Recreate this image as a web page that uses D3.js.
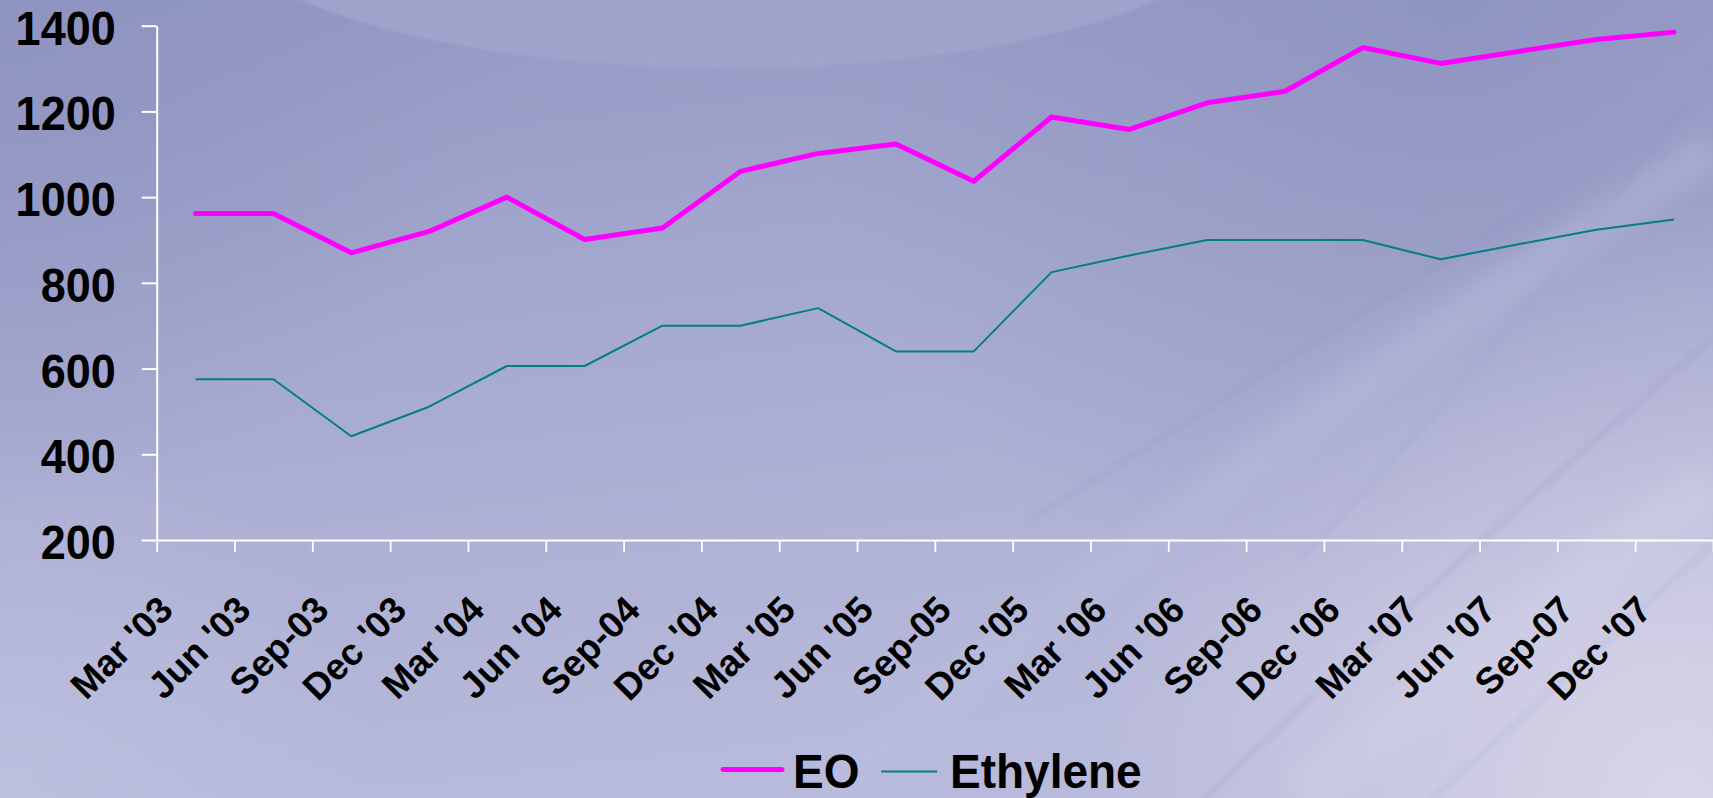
<!DOCTYPE html>
<html>
<head>
<meta charset="utf-8">
<script src="https://cdn.jsdelivr.net/npm/d3@7/dist/d3.min.js"></script>
<style>
  html, body { margin: 0; padding: 0; overflow: hidden; background: #a9acd1; }
  svg { display: block; }
  text { font-family: "Liberation Sans", Arial, Helvetica, sans-serif; font-weight: bold; fill: #000; }
</style>
</head>
<body>
<script>
// Quarterly price series
const categories = ["Mar '03", "Jun '03", "Sep-03", "Dec '03", "Mar '04", "Jun '04", "Sep-04", "Dec '04",
  "Mar '05", "Jun '05", "Sep-05", "Dec '05", "Mar '06", "Jun '06", "Sep-06", "Dec '06",
  "Mar '07", "Jun '07", "Sep-07", "Dec '07"];
const eoValues = [962, 962, 870, 920, 1000, 901, 928, 1060, 1102, 1124, 1037, 1187, 1158, 1220, 1247, 1349, 1312, 1340, 1368, 1385];
const ethyleneValues = [575, 575, 442, 511, 606, 606, 700, 700, 741, 640, 640, 825, 864, 900, 900, 900, 855, 890, 924, 948];
const yTicks = [200, 400, 600, 800, 1000, 1200, 1400];
const seriesNames = ["EO", "Ethylene"];

(function () {
const W = 1713, H = 798;
const svg = d3.select("body").append("svg").attr("width", W).attr("height", H);

// ---- backdrop ----
const defs = svg.append("defs");
const lg = defs.append("linearGradient").attr("id", "bg").attr("x1", 0).attr("y1", 0).attr("x2", 0.25).attr("y2", 1);
[[0, "#9196c2"], [0.45, "#a6a9cf"], [1, "#b8badb"]].forEach(([o, c]) => lg.append("stop").attr("offset", o).attr("stop-color", c));
const rg1 = defs.append("radialGradient").attr("id", "glowBR").attr("cx", 1680).attr("cy", 800).attr("r", 600).attr("gradientUnits", "userSpaceOnUse");
rg1.append("stop").attr("offset", 0).attr("stop-color", "#dad6e9").attr("stop-opacity", 0.95);
rg1.append("stop").attr("offset", 1).attr("stop-color", "#dad6e9").attr("stop-opacity", 0);
const rg2 = defs.append("radialGradient").attr("id", "shadeTR").attr("cx", 1450).attr("cy", 0).attr("r", 650).attr("gradientUnits", "userSpaceOnUse");
rg2.append("stop").attr("offset", 0).attr("stop-color", "#8c93bf").attr("stop-opacity", 0.8);
rg2.append("stop").attr("offset", 1).attr("stop-color", "#8c93bf").attr("stop-opacity", 0);
const rg3 = defs.append("radialGradient").attr("id", "shadeTL").attr("cx", 0).attr("cy", 0).attr("r", 520).attr("gradientUnits", "userSpaceOnUse");
rg3.append("stop").attr("offset", 0).attr("stop-color", "#8d93bf").attr("stop-opacity", 0.7);
rg3.append("stop").attr("offset", 1).attr("stop-color", "#8d93bf").attr("stop-opacity", 0);
const rg4 = defs.append("radialGradient").attr("id", "glowBL").attr("cx", 0).attr("cy", 798).attr("r", 380).attr("gradientUnits", "userSpaceOnUse");
rg4.append("stop").attr("offset", 0).attr("stop-color", "#bfc2e0").attr("stop-opacity", 0.7);
rg4.append("stop").attr("offset", 1).attr("stop-color", "#bfc2e0").attr("stop-opacity", 0);
defs.append("filter").attr("id", "soft").append("feGaussianBlur").attr("stdDeviation", 3);
defs.append("filter").attr("id", "softWide").append("feGaussianBlur").attr("stdDeviation", 10);
defs.append("filter").attr("id", "soft2").append("feGaussianBlur").attr("stdDeviation", 1.5);

const bg = svg.append("g");
bg.append("rect").attr("width", W).attr("height", H).attr("fill", "url(#bg)");
bg.append("rect").attr("width", W).attr("height", H).attr("fill", "url(#shadeTL)");
bg.append("rect").attr("width", W).attr("height", H).attr("fill", "url(#shadeTR)");
bg.append("rect").attr("width", W).attr("height", H).attr("fill", "url(#glowBR)");
bg.append("rect").attr("width", W).attr("height", H).attr("fill", "url(#glowBL)");
// arc of lighter tone along the top edge
bg.append("ellipse").attr("cx", 729).attr("cy", -89).attr("rx", 520).attr("ry", 157)
  .attr("fill", "#a2a7cf").attr("opacity", 0.75).attr("filter", "url(#soft2)");
// broad pale bands sweeping up to the right
const bands = [
  {d: "M820,798 C1050,610 1350,380 1713,150", c: "#bcc0df", w: 40, o: 0.35},
  {d: "M1300,798 C1450,680 1580,580 1713,480", c: "#cfd0e6", w: 50, o: 0.4}
];
bg.selectAll("path.band").data(bands).join("path").attr("class", "band")
  .attr("d", d => d.d).attr("fill", "none").attr("stroke", d => d.c)
  .attr("stroke-width", d => d.w).attr("opacity", d => d.o).attr("filter", "url(#softWide)");
// thin darker streaks
const streaks = [
  {d: "M1030,520 C1250,380 1500,230 1713,92", w: 3, o: 0.35},
  {d: "M1190,812 C1380,630 1560,470 1713,337", w: 3, o: 0.35},
  {d: "M1300,560 C1450,400 1600,230 1713,60", w: 2.5, o: 0.3},
  {d: "M1418,812 C1530,710 1630,620 1713,544", w: 2.5, o: 0.3}
];
bg.selectAll("path.streak").data(streaks).join("path").attr("class", "streak")
  .attr("d", d => d.d).attr("fill", "none").attr("stroke", "#8a90bc")
  .attr("stroke-width", d => d.w).attr("opacity", d => d.o).attr("filter", "url(#soft)");

// ---- scales ----
const plotLeft = 156.7, plotRight = 1713, plotTop = 25.7, plotBottom = 540;
const x = d3.scaleBand().domain(categories).range([plotLeft, plotRight]).padding(0);
const xEdge = d3.scaleLinear().domain([0, categories.length]).range([plotLeft, plotRight]);
const y = d3.scaleLinear().domain([200, 1400]).range([plotBottom, plotTop]);

// ---- axes ----
const yAxis = svg.append("g").attr("transform", `translate(${plotLeft},0)`)
  .call(d3.axisLeft(y).tickValues(yTicks).tickFormat(d3.format("d")).tickSize(15).tickSizeOuter(0).tickPadding(26));
yAxis.select(".domain").attr("stroke", "#fff").attr("stroke-width", 2);
yAxis.selectAll(".tick line").attr("stroke", "#fff").attr("stroke-width", 2);
yAxis.selectAll(".tick text").attr("fill", "#000").attr("font-size", 45).attr("dy", "0.38em")
  .attr("transform", "scale(1,1.08)")
  .style("font-family", "'Liberation Sans', Arial, sans-serif").style("font-weight", "bold");

const xAxis = svg.append("g").attr("transform", `translate(0,${plotBottom})`)
  .call(d3.axisBottom(xEdge).tickValues(d3.range(categories.length + 1)).tickSize(12).tickSizeOuter(0).tickFormat(""));
xAxis.select(".domain").attr("stroke", "#fff").attr("stroke-width", 2);
xAxis.selectAll(".tick line").attr("stroke", "#fff").attr("stroke-width", 1.8);

svg.append("g").selectAll("text").data(categories).join("text")
  .attr("transform", d => `translate(${x(d) + x.bandwidth() / 2 - 20.5},${plotBottom + 72}) rotate(-45)`)
  .attr("text-anchor", "end").attr("font-size", 37).text(d => d);

// ---- series ----
const line = d3.line().x((d, i) => x(categories[i]) + x.bandwidth() / 2).y(d => y(d));
svg.append("path").datum(ethyleneValues).attr("d", line).attr("fill", "none")
  .attr("stroke", "#008080").attr("stroke-width", 2).attr("stroke-linejoin", "round");
svg.append("path").datum(eoValues).attr("d", line).attr("fill", "none")
  .attr("stroke", "#ff00ff").attr("stroke-width", 5).attr("stroke-linejoin", "round").attr("stroke-linecap", "round");

// ---- legend ----
const legend = [
  {name: seriesNames[0], color: "#ff00ff", w: 5, x1: 723, x2: 782, ly: 769.5, tx: 793},
  {name: seriesNames[1], color: "#008080", w: 2, x1: 881, x2: 937, ly: 771.5, tx: 950}
];
const lgG = svg.append("g");
lgG.selectAll("line").data(legend).join("line")
  .attr("x1", d => d.x1).attr("x2", d => d.x2).attr("y1", d => d.ly).attr("y2", d => d.ly)
  .attr("stroke", d => d.color).attr("stroke-width", d => d.w).attr("stroke-linecap", d => d.w > 3 ? "round" : "butt");
lgG.selectAll("text").data(legend).join("text")
  .attr("transform", d => `translate(${d.tx},788) scale(1,1.06)`)
  .attr("font-size", 46).text(d => d.name);
})();
</script>
</body>
</html>
